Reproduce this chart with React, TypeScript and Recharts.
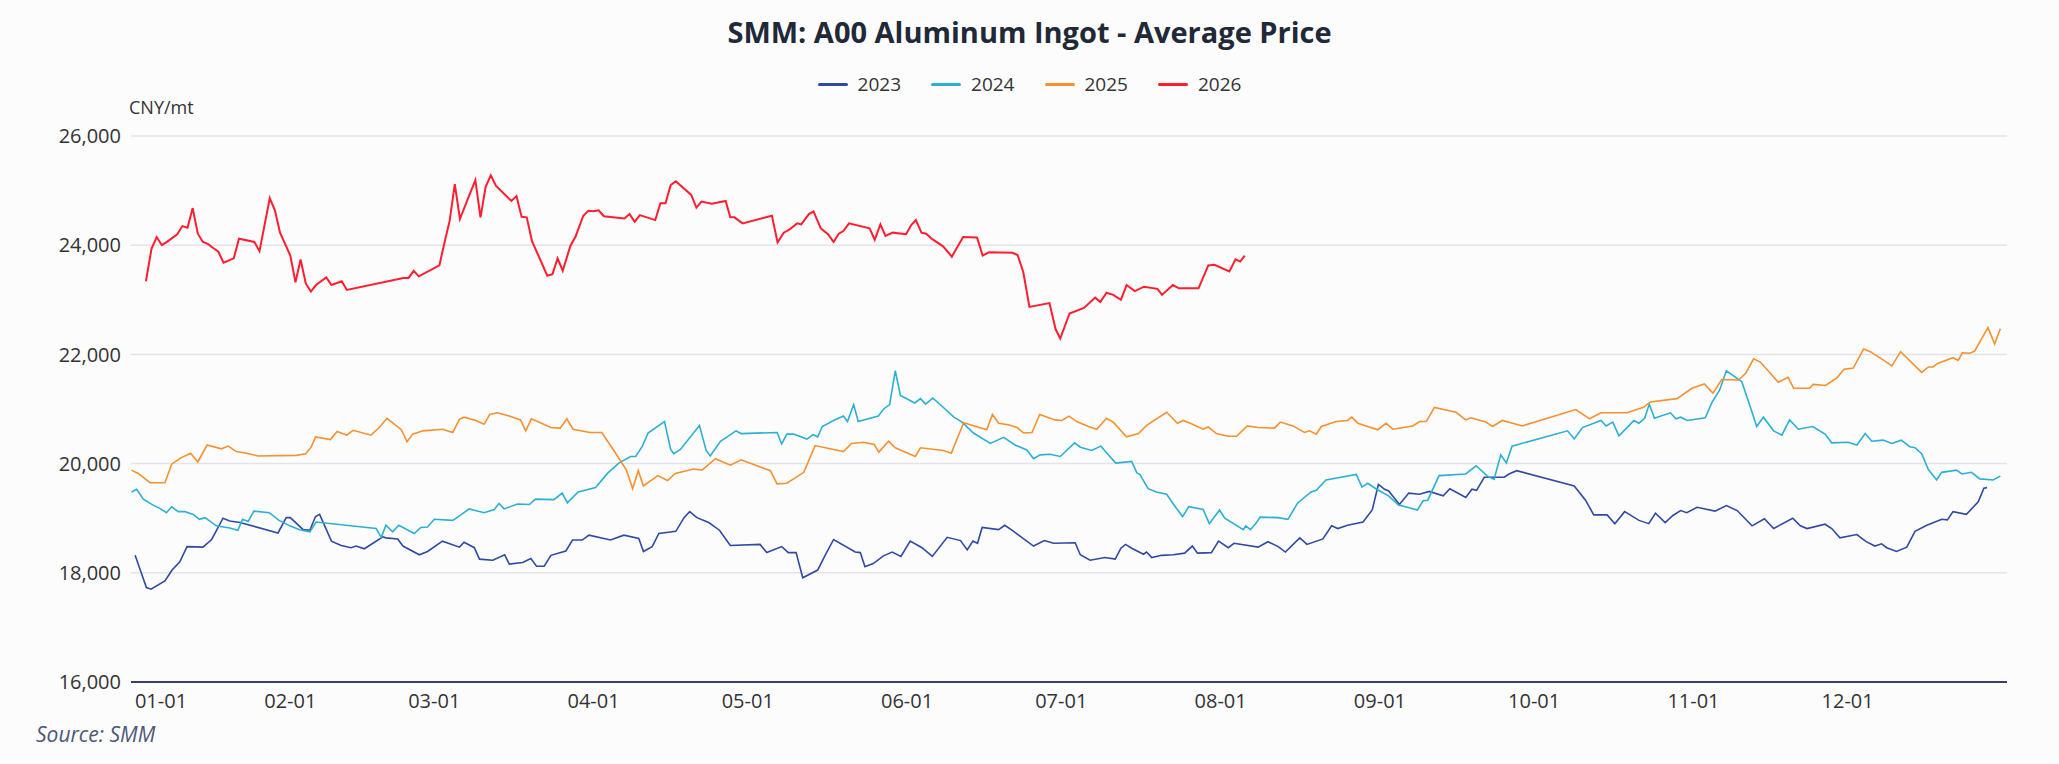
import React from "react";
import { LineChart, Line, XAxis, YAxis, CartesianGrid } from "recharts";

const monthTicks = [0, 31, 59, 90, 120, 151, 181, 212, 243, 273, 304, 334];
const monthLabels = ["01-01", "02-01", "03-01", "04-01", "05-01", "06-01", "07-01", "08-01", "09-01", "10-01", "11-01", "12-01"];
const yTicks = [16000, 18000, 20000, 22000, 24000, 26000];
const seriesNames = ["2023", "2024", "2025", "2026"];
const seriesColors = ["#2f4aa3", "#2bb0d4", "#f7902e", "#ff1d30"];

const s2023: [number, number][] = [
  [0.8,18320],[3,17730],[3.9,17700],[6.6,17850],[8,18050],[9.5,18200],[10.9,18480],[14,18470],[15.7,18610],[17.9,19000],[19.2,18950],[21.2,18920],[28.6,18730],[30.2,19010],[31,19010],[33.5,18790],[34.8,18780],[35.9,19030],[36.7,19070],[39,18580],[40.9,18500],[42.8,18460],[43.8,18490],[45.4,18440],[49,18660],[49.6,18640],[51.9,18620],[52.9,18490],[56.1,18330],[57.7,18390],[60.6,18580],[63.9,18470],[64.8,18560],[66.8,18460],[67.8,18250],[70.4,18230],[72.7,18330],[73.6,18160],[76.2,18190],[77.8,18260],[78.9,18120],[80.4,18120],[81.7,18320],[84.6,18400],[85.9,18600],[87.8,18600],[89.1,18690],[93.3,18600],[95.9,18690],[98.8,18630],[99.7,18390],[101.4,18480],[102.7,18720],[106,18760],[107.6,19010],[108.7,19120],[110.1,19010],[112.4,18920],[114.5,18780],[116.6,18500],[122.4,18520],[123.7,18370],[126.6,18480],[127.9,18370],[129.4,18370],[130.7,17910],[133.6,18050],[135.1,18330],[136.7,18610],[140.9,18380],[141.9,18370],[142.8,18110],[144.4,18170],[146.4,18310],[148.1,18380],[149.8,18300],[151.6,18580],[153.9,18460],[155.9,18300],[158.8,18650],[161.4,18590],[162.7,18420],[163.8,18580],[164.7,18540],[165.6,18830],[168.8,18790],[170,18870],[171.4,18780],[172.7,18690],[175.6,18490],[177.7,18590],[179.5,18540],[183.7,18550],[184.7,18330],[186.6,18230],[189.5,18280],[191.5,18250],[192.6,18450],[193.5,18520],[194.7,18450],[197,18340],[197.6,18380],[198.6,18280],[200.5,18320],[202.8,18330],[205,18360],[206.5,18490],[207.5,18360],[210.2,18370],[211.6,18580],[213.5,18460],[214.6,18540],[219.3,18470],[221.2,18570],[223.2,18480],[224.6,18380],[227.4,18640],[228.8,18520],[231.9,18620],[233.6,18860],[234.8,18810],[236.7,18870],[239.7,18930],[241.5,19150],[242.7,19620],[243.9,19530],[244.7,19500],[246.8,19250],[248.6,19460],[250.7,19440],[252.6,19490],[255.3,19410],[256.6,19540],[259.7,19380],[260.9,19530],[261.8,19510],[263.3,19750],[267.2,19750],[268.1,19810],[269.6,19870],[280.8,19590],[283,19330],[284.6,19060],[287.2,19060],[288.7,18900],[290.6,19120],[291.5,19070],[293.4,18960],[295.3,18900],[296.6,19090],[298.5,18920],[300,19050],[301.5,19140],[302.7,19100],[304.7,19200],[308.2,19130],[310.4,19230],[312.5,19140],[315.4,18860],[317.8,18990],[319.6,18810],[323.3,19000],[324.8,18860],[326.1,18810],[329.6,18890],[330.9,18810],[332.5,18640],[335.8,18700],[337.6,18570],[339.3,18490],[340.6,18530],[341.6,18460],[343.5,18390],[345.5,18470],[347.1,18760],[349.4,18870],[352.3,18980],[353.4,18970],[354.5,19120],[357.1,19070],[359.4,19300],[360.5,19550],[361.1,19560]
];

const s2024: [number, number][] = [
  [0.1,19480],[1.1,19530],[2.4,19350],[4.3,19240],[5.6,19180],[6.9,19100],[7.9,19210],[9.2,19120],[10.5,19120],[12.1,19070],[13.3,18980],[14.4,19010],[16.6,18860],[19.2,18820],[20.8,18780],[21.7,18980],[22.8,18940],[23.9,19130],[26.9,19100],[28.8,18960],[30.9,18860],[32.8,18790],[34.8,18750],[36,18930],[47.7,18810],[48.7,18650],[49.6,18870],[50.9,18750],[52.1,18870],[55.1,18720],[56.4,18830],[57.7,18840],[59,18980],[62.6,18960],[63.7,19030],[65.8,19170],[68.7,19100],[70.7,19160],[71.6,19270],[72.6,19170],[75.2,19260],[77.5,19250],[78.7,19350],[82.3,19340],[83.9,19460],[84.9,19280],[87,19480],[90.4,19560],[92.7,19820],[94.9,20010],[97.2,20130],[98.2,20130],[99.5,20320],[100.6,20560],[103.8,20770],[105,20260],[105.6,20180],[106.9,20260],[110.6,20700],[111.9,20240],[112.7,20140],[114.7,20410],[117.7,20600],[118.7,20550],[125.7,20570],[126.6,20360],[127.6,20540],[128.9,20540],[131.5,20450],[132.7,20530],[133.6,20490],[134.5,20680],[136.7,20790],[138.6,20870],[139.4,20770],[140.6,21080],[141.5,20770],[145.4,20870],[146.5,21005],[147.6,21080],[148.7,21700],[149.7,21250],[152.5,21110],[153.6,21190],[154.6,21090],[156,21200],[157.8,21050],[160.1,20850],[161.7,20760],[163.9,20560],[167.2,20370],[169.8,20480],[172,20340],[174.3,20250],[175.6,20090],[176.9,20160],[178.8,20170],[180.8,20130],[183.6,20380],[184.7,20300],[186.9,20240],[188.7,20320],[189.8,20200],[191.6,20010],[194.7,20040],[195.7,19830],[196.3,19800],[197.9,19540],[199.5,19480],[201.5,19440],[203.1,19220],[204.6,19030],[205.8,19210],[208.6,19160],[209.8,18900],[211.8,19150],[212.8,19000],[216.4,18790],[216.9,18860],[217.8,18790],[218.8,18900],[219.7,19020],[223.2,19010],[225.1,18980],[227,19280],[229.6,19480],[230.6,19510],[232.5,19700],[238.4,19800],[239.5,19570],[240.6,19640],[242.2,19540],[244.8,19400],[246.6,19240],[248.7,19190],[250.3,19150],[251.4,19320],[252.3,19330],[254.5,19780],[259.7,19810],[261.7,19960],[263.9,19770],[265.2,19710],[266.5,20160],[267.6,20010],[268.7,20320],[279.5,20600],[280.8,20450],[282.4,20660],[286,20790],[287,20690],[288.3,20760],[289.5,20510],[291.5,20700],[292.4,20790],[293.4,20740],[294.5,20830],[295.4,21090],[296.4,20830],[299.5,20930],[300.6,20820],[301.5,20850],[302.8,20790],[306.3,20840],[307.6,21120],[309.1,21350],[310.4,21700],[313.4,21500],[315.4,20940],[316.3,20680],[317.6,20850],[319.6,20600],[321.2,20520],[322.7,20800],[324.4,20630],[327.2,20680],[329.6,20540],[330.9,20380],[334.1,20390],[335.8,20340],[337.4,20550],[338.7,20410],[340.9,20430],[342.6,20370],[344.4,20430],[346.1,20310],[347.1,20290],[348.4,20180],[349.7,19890],[351.3,19700],[352.3,19840],[355.2,19880],[356.2,19810],[358.1,19840],[359.7,19720],[362.3,19700],[363.7,19770]
];

const s2025: [number, number][] = [
  [0.1,19880],[1.4,19820],[3.7,19650],[6.6,19650],[7.9,19990],[9.8,20110],[11.6,20190],[13,20030],[14.8,20340],[17.6,20270],[18.9,20320],[20.5,20220],[22.5,20190],[24.7,20140],[32.2,20150],[34,20180],[35.1,20310],[35.9,20490],[38.8,20440],[40.1,20590],[42,20520],[43.2,20610],[46.7,20520],[48.3,20660],[49.8,20830],[52.6,20620],[53.7,20400],[54.8,20540],[56.8,20600],[60.6,20630],[62.6,20570],[63.9,20810],[64.8,20850],[67.1,20790],[68.7,20720],[69.8,20900],[71.3,20930],[73.6,20870],[75.8,20800],[76.8,20600],[77.9,20820],[81.7,20660],[83.5,20650],[84.8,20820],[86,20630],[89.3,20570],[91.6,20570],[94,20230],[96.4,19880],[97.6,19540],[98.7,19870],[99.7,19590],[102.5,19780],[104.4,19690],[105.9,19820],[109.5,19900],[111.1,19880],[113.7,20090],[116.6,19970],[118.7,20070],[124.4,19870],[125.7,19630],[127.6,19640],[130.9,19840],[133.1,20330],[138.6,20220],[140.2,20370],[142.5,20390],[144.6,20350],[145.5,20210],[147.4,20410],[148.7,20290],[152.6,20130],[153.6,20290],[158.1,20240],[159.6,20190],[162,20750],[166.5,20620],[167.6,20900],[168.8,20740],[170.7,20710],[172.4,20660],[173.7,20560],[175.3,20570],[176.8,20900],[179.8,20800],[181.1,20790],[182.5,20870],[184,20770],[186.3,20680],[187.9,20630],[189.8,20830],[191.1,20760],[193.7,20490],[196,20550],[197.6,20700],[201.5,20940],[203.6,20740],[204.7,20790],[206.3,20730],[208.6,20630],[209.6,20670],[211.2,20550],[213.5,20500],[215.1,20500],[217.2,20690],[219.3,20660],[222.5,20650],[223.6,20760],[226.1,20690],[228.3,20570],[229.3,20600],[230.6,20540],[231.6,20680],[234.5,20770],[236.7,20790],[237.5,20850],[238.7,20740],[242.6,20620],[244.2,20740],[245.5,20630],[249.4,20690],[250.7,20770],[252,20770],[253.6,21030],[257.8,20940],[259.7,20800],[260.7,20840],[263.6,20760],[264.9,20680],[266.8,20790],[270.7,20690],[281.1,20990],[283.8,20820],[286,20930],[291.1,20930],[294.3,21030],[295.6,21130],[300.8,21190],[303.7,21380],[306.1,21460],[307.8,21290],[309.5,21540],[312.8,21530],[314.2,21660],[315.7,21920],[317,21860],[320.5,21490],[322.4,21580],[323.5,21380],[326.6,21380],[327.3,21450],[329.7,21430],[331.9,21570],[333.3,21730],[335.1,21750],[337.1,22100],[338.4,22050],[340.9,21900],[342.6,21790],[344.3,22050],[348.4,21670],[349.7,21770],[350.6,21770],[351.6,21840],[354.5,21940],[355.5,21890],[356.3,22030],[357.8,22020],[358.7,22060],[361.3,22490],[362.6,22190],[363.7,22470]
];

const s2026: [number, number][] = [
  [2.9,23340],[4,23940],[5,24150],[6,24000],[7,24060],[9,24200],[10,24350],[11,24320],[12,24680],[13,24210],[14,24060],[15,24020],[16,23950],[17,23880],[18,23680],[20,23760],[21,24120],[24,24060],[25,23890],[27,24860],[28,24640],[29,24230],[31,23810],[32,23320],[33,23740],[34,23300],[35,23150],[36,23270],[38,23410],[39,23270],[41,23340],[42,23180],[53,23400],[54,23400],[55,23530],[56,23430],[60,23630],[61,24050],[62,24450],[63,25120],[64,24480],[65.5,24840],[67,25190],[68,24510],[69,25070],[70,25280],[71,25090],[74,24810],[75,24900],[76,24520],[77,24510],[78,24080],[81,23440],[82,23470],[83,23760],[84,23530],[85.5,23990],[86.5,24160],[88,24540],[89,24630],[90,24620],[91,24640],[92,24530],[96,24490],[97,24570],[98,24430],[99,24550],[102,24460],[103,24770],[104,24770],[105,25100],[106,25170],[109,24920],[110,24690],[111,24800],[113,24760],[115.7,24810],[116.6,24510],[117.4,24510],[119,24400],[124.7,24540],[125.8,24050],[127,24230],[128,24280],[129.6,24400],[130.4,24380],[131.9,24570],[132.8,24620],[134.2,24310],[135.6,24200],[136.7,24060],[137.7,24210],[138.6,24260],[139.7,24400],[143.7,24310],[144.7,24100],[145.8,24380],[146.8,24170],[148.2,24230],[150.8,24200],[151.8,24370],[152.7,24460],[153.8,24230],[154.7,24210],[155.9,24110],[158,23980],[159.7,23790],[161.9,24150],[164.6,24140],[165.7,23810],[166.9,23870],[171.5,23860],[172.5,23820],[173.6,23510],[174.8,22870],[178.7,22940],[179.9,22460],[180.8,22290],[182.6,22750],[185.4,22850],[187.6,23040],[188.6,22960],[189.8,23130],[191.1,23090],[192.6,23000],[193.7,23270],[195.3,23160],[197.1,23240],[199.7,23200],[200.6,23090],[202.7,23270],[203.9,23210],[207.7,23210],[209.6,23630],[210.8,23640],[213.7,23520],[214.9,23740],[215.8,23700],[216.7,23810]
];

const toRows = (s: [number, number][]) => s.map(([d, v]) => ({ d, v }));
const allSeries = [s2023, s2024, s2025, s2026].map(toRows);

const FONT = "'Open Sans', 'Noto Sans', sans-serif";

const XTick = (props: any) => {
  const { x, y, payload } = props;
  const idx = monthTicks.indexOf(payload.value);
  const dx = payload.value === 0 ? 30 : 0;
  return (
    <text x={x + dx} y={y + 18} textAnchor="middle" fontSize={20} fill="#333" fontFamily={FONT}>
      {monthLabels[idx]}
    </text>
  );
};

export default function App() {
  return (
    <div style={{ position: "absolute", left: 0, top: 0, width: 2059, height: 764, background: "#fcfcfd", fontFamily: FONT }}>
      <div style={{ position: "absolute", top: 12, left: 0, width: 2059, textAlign: "center", fontSize: 29, fontWeight: 700, color: "#1f2937" }}>
        SMM: A00 Aluminum Ingot - Average Price
      </div>
      <div style={{ position: "absolute", top: 71, left: 0, width: 2059, display: "flex", justifyContent: "center", gap: 30, fontSize: 19, color: "#333" }}>
        {seriesNames.map((n, i) => (
          <div key={n} style={{ display: "flex", alignItems: "center", gap: 10 }}>
            <div style={{ width: 30, height: 3, background: seriesColors[i], borderRadius: 2 }} />
            <span>{n}</span>
          </div>
        ))}
      </div>
      <div style={{ position: "absolute", top: 95, left: 129, fontSize: 18, color: "#333" }}>CNY/mt</div>
      <div style={{ position: "absolute", top: 720, left: 36, fontSize: 21, fontStyle: "italic", color: "#4b5878" }}>Source: SMM</div>
      <LineChart width={2059} height={764} margin={{ top: 136, right: 52, bottom: 52, left: 51 }}>
        <CartesianGrid horizontal vertical={false} stroke="#e3e3ea" strokeWidth={1.5} />
        <XAxis
          dataKey="d"
          type="number"
          domain={[0, 365]}
          ticks={monthTicks}
          tick={<XTick />}
          tickLine={false}
          axisLine={{ stroke: "#3a4060", strokeWidth: 2 }}
          height={30}
          allowDuplicatedCategory={false}
        />
        <YAxis
          type="number"
          domain={[16000, 26000]}
          ticks={yTicks}
          tickFormatter={(v: number) => v.toLocaleString("en-US")}
          tick={{ fontSize: 20, fill: "#333", fontFamily: FONT }}
          tickLine={false}
          axisLine={false}
          width={80}
          tickMargin={4}
        />
        {allSeries.map((rows, i) => (
          <Line
            key={seriesNames[i]}
            data={rows}
            dataKey="v"
            name={seriesNames[i]}
            type="linear"
            stroke={seriesColors[i]}
            strokeWidth={i === 3 ? 2 : 1.6}
            dot={false}
            isAnimationActive={false}
          />
        ))}
      </LineChart>
    </div>
  );
}
